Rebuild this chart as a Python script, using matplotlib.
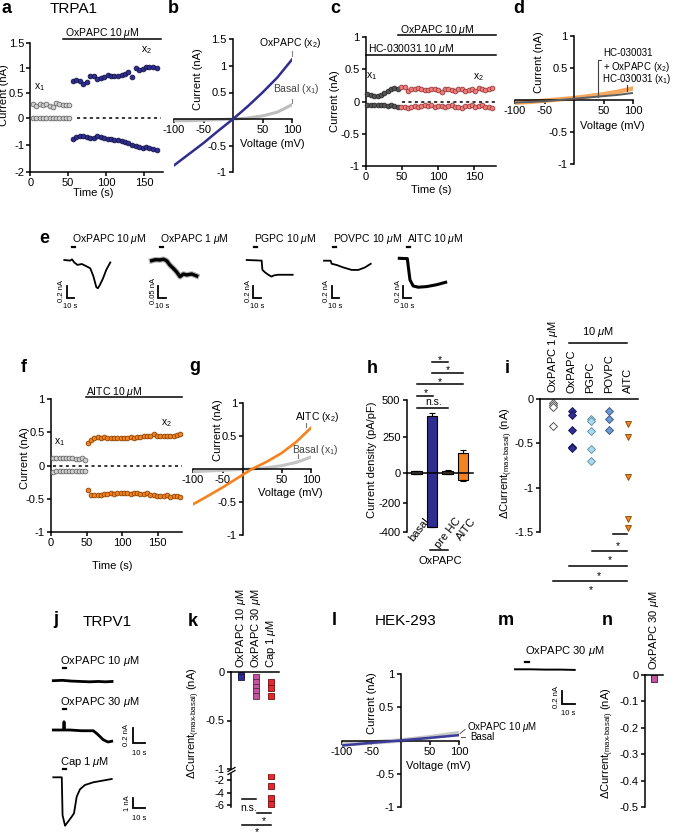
import numpy as np
import matplotlib
matplotlib.use('Agg')
import matplotlib.pyplot as plt
from matplotlib.lines import Line2D

plt.rcParams['font.family'] = ['Liberation Sans', 'DejaVu Sans']
plt.rcParams['mathtext.fontset'] = 'custom'
plt.rcParams['mathtext.rm'] = 'Liberation Sans'
plt.rcParams['mathtext.it'] = 'Liberation Sans:italic'
plt.rcParams['mathtext.bf'] = 'Liberation Sans:bold'
plt.rcParams['font.size'] = 8
plt.rcParams['axes.linewidth'] = 1.1
plt.rcParams['axes.facecolor'] = 'none'
for k_ in ('xtick', 'ytick'):
    plt.rcParams[k_ + '.major.width'] = 1.1
    plt.rcParams[k_ + '.major.size'] = 3
    plt.rcParams[k_ + '.major.pad'] = 1.5
    plt.rcParams[k_ + '.labelsize'] = 8

# ---------------- data ----------------
# a  TRPA1, OxPAPC 10 uM time course (s, nA)
a_t_basal = [4, 8, 12.5, 17, 21, 25.5, 30, 34, 38.5, 43, 47, 51.5]
a_out_basal = [0.27, 0.24, 0.28, 0.25, 0.27, 0.24, 0.21, 0.30, 0.28, 0.26, 0.26, 0.26]
a_in_basal = [0.0, -0.01, 0.0, 0.0, -0.01, 0.0, 0.0, 0.0, -0.01, 0.0, 0.0, -0.01]
a_t_ox = [56, 60.5, 65, 70, 74.5, 79, 83.5, 88, 93, 97.5, 102, 106.5, 111, 116, 120.5,
          125, 129.5, 134, 139, 143.5, 148, 152.5, 157, 162, 166.5]
a_out_ox = [0.75, 0.76, 0.75, 0.69, 0.72, 0.84, 0.84, 0.78, 0.81, 0.83, 0.87, 0.84, 0.85,
            0.85, 0.86, 0.88, 0.92, 0.83, 1.00, 0.96, 0.98, 1.03, 1.03, 1.03, 1.00]
a_in_ox = [-0.80, -0.73, -0.68, -0.67, -0.70, -0.75, -0.76, -0.68, -0.72, -0.74, -0.78, -0.80,
           -0.82, -0.83, -0.86, -0.88, -0.95, -1.02, -1.06, -1.08, -1.10, -1.07, -1.12, -1.15, -1.18]

# b  I-V (mV, nA)
iv_v = [-100, -75, -50, -25, 0, 25, 50, 75, 100]
b_oxpapc = [-0.87, -0.66, -0.45, -0.22, 0.0, 0.24, 0.50, 0.78, 1.12]
b_basal = [-0.03, -0.03, -0.02, -0.01, 0.0, 0.02, 0.06, 0.13, 0.27]

# c  HC-030031 + OxPAPC time course
c_t_hc = [2, 6.7, 11.4, 16, 20.7, 25.4, 30.1, 34.8, 39.4, 44.1]
c_out_hc = [0.11, 0.10, 0.09, 0.08, 0.10, 0.13, 0.16, 0.19, 0.21, 0.20]
c_in_hc = [-0.05, -0.06, -0.05, -0.06, -0.05, -0.06, -0.07, -0.06, -0.07, -0.08]
c_t_ox = [48.8, 53.5, 58.2, 62.8, 67.5, 72.2, 76.9, 81.6, 86.2, 90.9, 95.6, 100.3, 105, 109.6,
          114.3, 119, 123.7, 128.4, 133, 137.7, 142.4, 147.1, 151.8, 156.4, 161.1, 165.8, 170.5, 175.2]
c_out_ox = [0.22, 0.23, 0.16, 0.19, 0.20, 0.21, 0.19, 0.18, 0.18, 0.19, 0.20, 0.18, 0.15, 0.19,
            0.20, 0.18, 0.17, 0.20, 0.19, 0.16, 0.18, 0.19, 0.17, 0.21, 0.20, 0.18, 0.19, 0.21]
c_in_ox = [-0.08, -0.09, -0.10, -0.09, -0.07, -0.08, -0.07, -0.06, -0.07, -0.06, -0.08, -0.07,
           -0.07, -0.08, -0.07, -0.06, -0.08, -0.09, -0.10, -0.07, -0.07, -0.06, -0.08, -0.07,
           -0.06, -0.08, -0.09, -0.10]

# d  I-V with HC-030031
d_hc = [-0.04, -0.03, -0.02, 0.0, 0.02, 0.04, 0.06, 0.08, 0.11]
d_hc_ox = [-0.04, -0.03, -0.01, 0.01, 0.03, 0.06, 0.09, 0.13, 0.18]

# e  example traces (s, nA)
e_labels = ['OxPAPC 10 $\\mu$M', 'OxPAPC 1 $\\mu$M', 'PGPC 10 $\\mu$M', 'POVPC 10 $\\mu$M', 'AITC 10 $\\mu$M']
e_bar_nA = [0.2, 0.05, 0.2, 0.2, 0.2]
e_t1 = [0, 8, 10.5, 13.7, 18, 24, 30, 35.6, 40, 43.8, 46, 49, 53, 57.5, 63]
e_i1 = [0, -0.01, 0.01, -0.04, -0.08, -0.065, -0.10, -0.135, -0.27, -0.44, -0.46, -0.40, -0.30, -0.16, -0.04]
e_t2 = [0, 5, 11.4, 16, 20.5, 25, 29.6, 34, 38.8, 43.4, 48, 54.8, 61.6]
e_i2 = [0, 0.004, 0.003, 0.006, 0, -0.018, -0.031, -0.045, -0.065, -0.054, -0.058, -0.054, -0.062]
e_t3 = [0, 20.5, 21.5, 25, 29.6, 34, 37.4, 43, 63]
e_i3 = [0, -0.01, -0.16, -0.20, -0.24, -0.27, -0.25, -0.24, -0.24]
e_t4 = [0, 9, 10.5, 17.4, 26.5, 38, 47, 56, 64]
e_i4 = [0, 0, -0.05, -0.07, -0.11, -0.15, -0.15, -0.11, -0.05]
e_t5 = [0, 11, 12.3, 14.6, 19, 26, 37.5, 51, 63.5]
e_i5 = [0, -0.005, -0.135, -0.35, -0.45, -0.47, -0.46, -0.43, -0.39]

# f  AITC time course
f_t_basal = [3, 7.5, 12, 16.5, 21, 25.5, 30, 34.5, 39, 43.5, 48]
f_out_basal = [0.11, 0.12, 0.11, 0.11, 0.12, 0.11, 0.12, 0.10, 0.10, 0.11, 0.09]
f_in_basal = [-0.10, -0.09, -0.08, -0.08, -0.08, -0.09, -0.08, -0.08, -0.08, -0.08, -0.09]
f_t_aitc = [51.6, 56.3, 60.9, 65.6, 70.2, 74.9, 79.5, 84.2, 88.8, 93.5, 98.1, 102.8, 107.4, 112.1,
            116.7, 121.4, 126, 130.7, 135.3, 140, 144.6, 149.3, 153.9, 158.6, 163.2, 167.9, 172.5, 177.2, 181.8]
f_out_aitc = [0.34, 0.39, 0.41, 0.43, 0.42, 0.43, 0.42, 0.42, 0.41, 0.42, 0.42, 0.42, 0.42, 0.43,
              0.42, 0.43, 0.43, 0.44, 0.44, 0.44, 0.47, 0.45, 0.44, 0.44, 0.45, 0.44, 0.45, 0.46, 0.47]
f_in_aitc = [-0.37, -0.44, -0.45, -0.44, -0.44, -0.43, -0.43, -0.42, -0.43, -0.42, -0.42, -0.41,
             -0.42, -0.43, -0.42, -0.42, -0.43, -0.43, -0.42, -0.44, -0.45, -0.46, -0.46, -0.46,
             -0.45, -0.47, -0.46, -0.46, -0.47]

# g  I-V AITC
g_aitc = [-0.535, -0.41, -0.28, -0.14, 0.0, 0.11, 0.24, 0.41, 0.625]
g_basal = [-0.04, -0.03, -0.02, -0.01, 0.0, 0.02, 0.05, 0.10, 0.18]

# h  current density (pA/pF)
h_cats = ['basal', 'OxPAPC', 'pre HC', 'AITC']
h_low = [-6, -363, -6, -45]
h_high = [14, 390, 18, 138]
h_err_low = [-6, -363, -6, -55]
h_err_high = [14, 412, 26, 160]

# i  delta current TRPA1 (nA)
i_cats = ['OxPAPC 1 $\\mu$M', 'OxPAPC', 'PGPC', 'POVPC', 'AITC']
i_ox1 = [-0.05, -0.07, -0.09, -0.30]
i_ox10 = [-0.14, -0.18, -0.35, -0.54, -0.55]
i_pgpc = [-0.22, -0.25, -0.36, -0.56, -0.70]
i_povpc = [-0.14, -0.22, -0.35]
i_aitc = [-0.28, -0.43, -0.88, -1.35, -1.45]

# j  TRPV1 traces
j_labels = ['OxPAPC 10 $\\mu$M', 'OxPAPC 30 $\\mu$M', 'Cap 1 $\\mu$M']
j_t1 = [0, 8, 16, 24, 32, 40, 46, 52]
j_i1 = [0, 0.005, -0.005, -0.01, -0.015, -0.01, -0.015, -0.01]
j_t2 = [0, 9, 9.5, 10, 14.8, 25, 35.4, 38.7, 41.5, 44.2, 48.4, 51.7]
j_i2 = [0, 0, 0.11, 0, 0, -0.01, -0.01, -0.05, -0.09, -0.13, -0.16, -0.15]
j_t3 = [0, 7.5, 8.2, 10.4, 16.3, 18.3, 20.7, 23.6, 28, 35.4, 51.7]
j_i3 = [0, 0, -3.8, -4.84, -3.94, -3.6, -1.94, -1.2, -0.77, -0.5, -0.17]

# k  delta current TRPV1
k_cats = ['OxPAPC 10 $\\mu$M', 'OxPAPC 30 $\\mu$M', 'Cap 1 $\\mu$M']
k_ox10 = [-0.03, -0.05]
k_ox30 = [-0.05, -0.10, -0.15, -0.20, -0.25]
k_cap = [-0.10, -0.17, -0.25, -1.3, -2.9, -4.9, -5.8]

# l  HEK-293 I-V
l_v = [-100, -50, 0, 50, 100]
l_ox = [-0.075, -0.035, 0.0, 0.04, 0.08]
l_basal = [-0.06, -0.03, 0.0, 0.05, 0.11]

# m  HEK trace
m_t = [0, 12, 24, 36, 47]
m_i = [0, 0, -0.005, -0.005, -0.01]

# n
n_val = [-0.025]

NAVY = '#2f2d8f'
NAVY_E = '#15144a'
GRAY_F = '#cfcfcf'
GRAY_E = '#6a6a6a'
ORANGE = '#f5821f'
ORANGE_E = '#8a4400'
PINK = '#f07c7c'
PINK_E = '#9a3b3b'
DARK = '#545454'

# ---------------- layout helpers (pixel boxes) ----------------
W, H = 675, 836
fig = plt.figure(figsize=(W / 100, H / 100), dpi=100)


def px_ax(x0, y0, x1, y1):
    return fig.add_axes([x0 / W, 1 - y1 / H, (x1 - x0) / W, (y1 - y0) / H])


def ftext(x, y, s, **kw):
    kw.setdefault('ha', 'center')
    kw.setdefault('va', 'center')
    return fig.text(x / W, 1 - y / H, s, **kw)


def fline(xs, ys, **kw):
    kw.setdefault('color', 'k')
    kw.setdefault('lw', 1.1)
    fig.add_artist(Line2D([x / W for x in xs], [1 - y / H for y in ys],
                          transform=fig.transFigure, **kw))


def lb(ax):
    ax.spines['top'].set_visible(False)
    ax.spines['right'].set_visible(False)


def tl(vals):
    return ['%g' % v for v in vals]


def iv_axes(box, ylim, yticks, ycross=0):
    ax = px_ax(*box)
    ax.set_xlim(-100, 100)
    ax.set_ylim(*ylim)
    lb(ax)
    ax.spines['left'].set_position(('data', ycross))
    ax.spines['bottom'].set_position(('data', 0))
    ax.set_xticks([-100, -50, 50, 100])
    ax.set_xticklabels(tl([-100, -50, 50, 100]))
    ax.set_yticks(yticks)
    ax.set_yticklabels(tl(yticks))
    return ax


def dots(ax, t, y, fc, ec):
    ax.plot(t, y, 'o', ms=3.4, mfc=fc, mec=ec, mew=0.6, clip_on=False, zorder=3)


def trace_ax(x0, base, pps, ppn):
    ax = px_ax(x0 - 20, base - 60, x0 + 100, base + 60)
    ax.set_xlim(-20 / pps, 100 / pps)
    ax.set_ylim(-60 / ppn, 60 / ppn)
    ax.axis('off')
    return ax


def scalebar(ax, t0, i0, dt, di, lw=1.3):
    ax.plot([t0, t0, t0 + dt], [i0 + di, i0, i0], color='k', lw=lw, clip_on=False,
            solid_joinstyle='miter')


# ---------------- a ----------------
def seg_fwd(v):
    v = np.asarray(v, dtype=float)
    return np.where(v >= 0, v, v * 0.55)


def seg_inv(v):
    v = np.asarray(v, dtype=float)
    return np.where(v >= 0, v, v / 0.55)


axA = px_ax(30.3, 43.5, 163, 172)
axA.set_yscale('function', functions=(seg_fwd, seg_inv))
axA.set_xlim(0, 175)
axA.set_ylim(-2, 1.5)
lb(axA)
axA.set_yticks([-2, -1, 0, 0.5, 1, 1.5])
axA.set_yticklabels(tl([-2, -1, 0, 0.5, 1, 1.5]))
axA.set_xticks([0, 50, 100, 150])
axA.set_xticklabels(tl([0, 50, 100, 150]))
axA.plot([62, 172], [0, 0], color='k', lw=1.1, ls=(0, (2, 2.2)))
dots(axA, a_t_basal, a_out_basal, GRAY_F, GRAY_E)
dots(axA, a_t_basal, a_in_basal, GRAY_F, GRAY_E)
dots(axA, a_t_ox, a_out_ox, NAVY, NAVY_E)
dots(axA, a_t_ox, a_in_ox, NAVY, NAVY_E)
axA.plot([43, 172], [1.585, 1.585], color='k', lw=1.1, clip_on=False)
ftext(65, 36.5, 'OxPAPC 10 $\\mu$M', ha='left', va='baseline', fontsize=7.5)
ftext(40, 87, '$\\mathregular{x_1}$', fontsize=7.5)
ftext(146, 50, '$\\mathregular{x_2}$', fontsize=7.5)
ftext(4.5, 95, 'Current (nA)', rotation=90)
ftext(93, 193, 'Time (s)')

# ---------------- b ----------------
axB = iv_axes((174, 39.3, 292, 172.3), (-1, 1.5), [-1, -0.5, 0.5, 1, 1.5])
axB.plot(iv_v, b_basal, color='#bdbdbd', lw=2.2, zorder=2)
axB.plot(iv_v, b_oxpapc, color=NAVY, lw=1.8, zorder=3)
axB.plot([100, 100], [1.28, 1.18], color='#888888', lw=0.8, clip_on=False)
axB.plot([100, 100], [0.38, 0.31], color='#888888', lw=0.8, clip_on=False)
ftext(290, 43, 'OxPAPC (x$_2$)', fontsize=7.5)
ftext(296, 89, 'Basal (x$_1$)', fontsize=7.5, color='#444444')
ftext(198, 79, 'Current (nA)', rotation=90)
ftext(272, 144, 'Voltage (mV)')

# ---------------- c ----------------
axC = px_ax(366, 37.3, 495.6, 165.7)
axC.set_xlim(0, 180)
axC.set_ylim(-1, 1)
lb(axC)
axC.set_yticks([-1, -0.5, 0, 0.5, 1])
axC.set_yticklabels(tl([-1, -0.5, 0, 0.5, 1]))
axC.set_xticks([0, 50, 100, 150])
axC.set_xticklabels(tl([0, 50, 100, 150]))
axC.plot([50, 179], [0, 0], color='k', lw=1.1, ls=(0, (2, 2.2)))
dots(axC, c_t_hc, c_out_hc, DARK, '#2a2a2a')
dots(axC, c_t_hc, c_in_hc, DARK, '#2a2a2a')
dots(axC, c_t_ox, c_out_ox, PINK, PINK_E)
dots(axC, c_t_ox, c_in_ox, PINK, PINK_E)
axC.plot([44, 180], [1.03, 1.03], color='k', lw=1.1, clip_on=False)
axC.plot([0, 180], [0.72, 0.72], color='k', lw=1.1, clip_on=False)
ftext(400, 33, 'OxPAPC 10 $\\mu$M', ha='left', va='baseline', fontsize=7.5)
ftext(368, 52, 'HC-030031 10 $\\mu$M', ha='left', va='baseline', fontsize=7.5)
ftext(372, 76, '$\\mathregular{x_1}$', fontsize=7.5)
ftext(478, 77, '$\\mathregular{x_2}$', fontsize=7.5)
ftext(335, 101, 'Current (nA)', rotation=90)
ftext(431, 190, 'Time (s)')

# ---------------- d ----------------
axD = iv_axes((515, 35.7, 633, 164.3), (-1, 1), [-1, -0.5, 0.5, 1])
axD.plot(iv_v, d_hc_ox, color='#f6a85f', lw=3.2, zorder=2)
axD.plot(iv_v, d_hc, color='#5f5f5f', lw=1.4, zorder=3)
axD.plot([45, 41, 41], [0.62, 0.62, 0.04], color='#444444', lw=0.8, clip_on=False)
axD.plot([89, 89], [0.23, 0.14], color='#444444', lw=0.8, clip_on=False)
ftext(603, 53, 'HC-030031', ha='left', fontsize=7)
ftext(603, 66.5, '+ OxPAPC (x$_2$)', ha='left', fontsize=7)
ftext(602, 79, 'HC-030031 (x$_1$)', ha='left', fontsize=7)
ftext(539, 62, 'Current (nA)', rotation=90)
ftext(612, 126, 'Voltage (mV)')

# ---------------- e ----------------
e_traces = [(e_t1, e_i1), (e_t2, e_i2), (e_t3, e_i3), (e_t4, e_i4), (e_t5, e_i5)]
e_x0 = [64.3, 151.7, 246.7, 324, 399.3]
e_base = [260, 260.7, 260, 260.7, 258.3]
e_lab_x = [72, 160, 254, 333, 407]
e_bar_x = [66.7, 158.3, 253.3, 331.7, 403.3]
e_lw = [1.3, 1.3, 1.3, 1.3, 2.2]
for n_, (tt, ii) in enumerate(e_traces):
    ppn = 12.3 / e_bar_nA[n_]
    ax = trace_ax(e_x0[n_], e_base[n_], 0.73, ppn)
    if n_ == 1:
        ax.plot(tt, ii, color='#b0b0b0', lw=4.0, clip_on=False, solid_joinstyle='round')
        ax.plot(tt, ii, color='k', lw=2.4, clip_on=False, solid_joinstyle='round')
    else:
        ax.plot(tt, ii, color='k', lw=e_lw[n_], clip_on=False)
    t_app = (e_lab_x[n_] - e_x0[n_]) / 0.73
    i_app = (e_base[n_] - 246.7) / ppn
    ax.plot([t_app, t_app + 3.5], [i_app, i_app], color='k', lw=1.6, clip_on=False)
    tb = (e_bar_x[n_] - e_x0[n_]) / 0.73
    ib = -(298.3 - e_base[n_]) / ppn
    scalebar(ax, tb, ib, 10, e_bar_nA[n_])
    ftext(e_lab_x[n_], 241.5, e_labels[n_], ha='left', va='baseline', fontsize=7.5,
          family=['Liberation Sans Narrow', 'Liberation Sans', 'DejaVu Sans'])
    ftext(e_bar_x[n_] - 5, 291, ('%g nA' % e_bar_nA[n_]), rotation=90, fontsize=5.5)
    ftext(e_bar_x[n_] + 3.5, 306.5, '10 s', fontsize=5.5)

# ---------------- f ----------------
axF = px_ax(51, 399, 182.4, 532)
axF.set_xlim(0, 185)
axF.set_ylim(-1, 1)
lb(axF)
axF.set_yticks([-1, -0.5, 0, 0.5, 1])
axF.set_yticklabels(tl([-1, -0.5, 0, 0.5, 1]))
axF.set_xticks([0, 50, 100, 150])
axF.set_xticklabels(tl([0, 50, 100, 150]))
axF.plot([3, 184], [0, 0], color='k', lw=1.1, ls=(0, (2, 2.2)))
dots(axF, f_t_basal, f_out_basal, GRAY_F, GRAY_E)
dots(axF, f_t_basal, f_in_basal, GRAY_F, GRAY_E)
dots(axF, f_t_aitc, f_out_aitc, ORANGE, ORANGE_E)
dots(axF, f_t_aitc, f_in_aitc, ORANGE, ORANGE_E)
axF.plot([49, 184], [1.03, 1.03], color='k', lw=1.1, clip_on=False)
ftext(86, 395, 'AITC 10 $\\mu$M', ha='left', va='baseline', fontsize=7.5)
ftext(59.5, 442.5, '$\\mathregular{x_1}$', fontsize=7.5)
ftext(166, 423, '$\\mathregular{x_2}$', fontsize=7.5)
ftext(25, 458, 'Current (nA)', rotation=90)
ftext(112, 566, 'Time (s)')

# ---------------- g ----------------
axG = iv_axes((193, 403, 311, 535), (-1, 1), [-1, -0.5, 0.5, 1], ycross=-15)
axG.plot(iv_v, g_basal, color='#c4c4c4', lw=2.2, zorder=2)
axG.plot(iv_v, g_aitc, color=ORANGE, lw=1.9, zorder=3)
axG.plot([91, 91], [0.70, 0.63], color='#777777', lw=0.8, clip_on=False)
axG.plot([78, 78], [0.23, 0.16], color='#777777', lw=0.8, clip_on=False)
ftext(317, 417, 'AITC (x$_2$)', fontsize=7.5)
ftext(315, 450, 'Basal (x$_1$)', fontsize=7.5, color='#444444')
ftext(218, 430, 'Current (nA)', rotation=90)
ftext(290, 493, 'Voltage (mV)')

# ---------------- h ----------------
axH = px_ax(406.7, 400, 473.3, 532)
axH.set_xlim(-0.63, 3.66)
axH.set_ylim(-400, 500)
lb(axH)
axH.spines['bottom'].set_position(('data', 0))
axH.set_xticks([])
axH.set_yticks([-400, -200, 0, 250, 500])
axH.set_yticklabels(tl([-400, -200, 0, 250, 500]))
h_x = np.arange(len(h_cats))
h_colors = ['#d8d8d8', NAVY, '#f4c9a4', ORANGE]
axH.bar(h_x, np.subtract(h_high, h_low), bottom=h_low, width=0.65, color=h_colors,
        edgecolor='k', lw=0.8, zorder=1)
axH.errorbar(h_x, h_high, yerr=[np.zeros(4), np.subtract(h_err_high, h_high)], fmt='none',
             ecolor='k', elinewidth=0.8, capsize=2.2, capthick=0.8)
axH.errorbar(h_x, h_low, yerr=[np.subtract(h_low, h_err_low), np.zeros(4)], fmt='none',
             ecolor='k', elinewidth=0.8, capsize=2.2, capthick=0.8)
for (x1, x2, y) in [(0.99, 2.05, 758), (0.99, 3.0, 687), (0.05, 3.0, 610),
                    (0.05, 1.08, 530), (0.05, 2.05, 448)]:
    axH.plot([x1, x2], [y, y], color='k', lw=1.1, clip_on=False)
h_star_pos = [(1.52, 795), (2.05, 722), (1.52, 643), (0.61, 568), (1.08, 486)]
for (x, y), s in zip(h_star_pos, ['*', '*', '*', '*', 'n.s.']):
    axH.text(x, y - (20 if s == '*' else 0), s, ha='center', va='center', fontsize=7.5,
             clip_on=False)
for x, s in zip([0, 2, 3], [h_cats[0], h_cats[2], h_cats[3]]):
    axH.text(x + 0.45, -290, s, rotation=52, rotation_mode='anchor', ha='right', va='top',
             fontsize=8)
axH.plot([0.87, 2.05], [-525, -525], color='k', lw=1.1, clip_on=False)
axH.text(1.52, -600, h_cats[1], ha='center', va='center', fontsize=8)
ftext(372, 460, 'Current density (pA/pF)', rotation=90)

# ---------------- i ----------------
axI = px_ax(540, 399, 638, 532)
axI.set_xlim(-0.69, 4.53)
axI.set_ylim(-1.5, 0)
axI.spines['right'].set_visible(False)
axI.spines['bottom'].set_visible(False)
axI.set_xticks([])
axI.set_yticks([-1.5, -1, -0.5, 0])
axI.set_yticklabels(tl([-1.5, -1, -0.5, 0]))
axI.plot([0] * len(i_ox1), i_ox1, 'D', ms=3.6, mfc='white', mec='#555555', mew=0.7)
axI.plot([1] * len(i_ox10), i_ox10, 'D', ms=3.6, mfc=NAVY, mec=NAVY_E, mew=0.6)
axI.plot([2] * len(i_pgpc), i_pgpc, 'D', ms=3.6, mfc='#a9dbf0', mec='#5a8aa0', mew=0.6)
axI.plot([3] * len(i_povpc), i_povpc, 'D', ms=3.6, mfc='#6c9bd3', mec='#35507a', mew=0.6)
axI.plot([4] * len(i_aitc), i_aitc, 'v', ms=4.4, mfc=ORANGE, mec=ORANGE_E, mew=0.6,
         clip_on=False)
for n_, s in enumerate(i_cats):
    axI.text(n_, 0.07, s, rotation=90, ha='center', va='bottom', fontsize=8, clip_on=False)
axI.plot([0.87, 3.93], [0.63, 0.63], color='k', lw=1.1, clip_on=False)
axI.text(2.4, 0.76, '10 $\\mu$M', ha='center', va='center', fontsize=8)
for x1, y in [(3.22, -1.52), (2.06, -1.71), (0.87, -1.88), (0.0, -2.05)]:
    axI.plot([x1, 3.93], [y, y], color='k', lw=1.1, clip_on=False)
for x, y in [(3.48, -1.63), (3.04, -1.79), (2.42, -1.97), (2.03, -2.13)]:
    axI.text(x, y - 0.03, '*', ha='center', va='center', fontsize=7.5, clip_on=False)
ftext(506.5, 463, '$\\Delta$Current$_{\\text{(max-basal)}}$ (nA)', rotation=90)

# ---------------- j ----------------
j_traces = [(j_t1, j_i1), (j_t2, j_i2), (j_t3, j_i3)]
j_base = [680.7, 730, 777.3]
j_ppn = [75, 75, 10]
j_lab_y = [660.7, 701.7, 761.7]
j_lw = [2.0, 2.0, 1.3]
j_axes = []
for n_, (tt, ii) in enumerate(j_traces):
    ax = trace_ax(53.3, j_base[n_], 1.13, j_ppn[n_])
    j_axes.append(ax)
    ax.plot(tt, ii, color='k', lw=j_lw[n_], clip_on=False)
    i_app = (j_base[n_] - (j_lab_y[n_] + 7.6)) / j_ppn[n_]
    ax.plot([8.8, 11.4], [i_app, i_app], color='k', lw=1.6, clip_on=False)
    ftext(60, j_lab_y[n_] + 3.5, j_labels[n_], ha='left', va='baseline', fontsize=8)
scalebar(j_axes[1], 70.8, -0.177, 10, 0.2)
scalebar(j_axes[2], 70.8, -3.1, 10, 1)
ftext(127, 735.5, '0.2 nA', rotation=90, fontsize=5.5)
ftext(139, 753.5, '10 s', fontsize=5.5)
ftext(127.5, 803.5, '1 nA', rotation=90, fontsize=5.5)
ftext(139, 818.5, '10 s', fontsize=5.5)

# ---------------- k ----------------
axK = px_ax(231, 672, 279, 769)
axK.set_xlim(-0.67, 2.53)
axK.set_ylim(-1, 0)
axK.spines['right'].set_visible(False)
axK.spines['bottom'].set_visible(False)
axK.set_xticks([])
axK.set_yticks([-1, -0.5, 0])
axK.set_yticklabels(tl([-1, -0.5, 0]))
axK2 = px_ax(231, 773.75, 279, 806.9)
axK2.set_xlim(-0.67, 2.53)
axK2.set_ylim(-6.3, -1)
for s in ('right', 'bottom', 'top'):
    axK2.spines[s].set_visible(False)
axK2.set_xticks([])
axK2.set_yticks([-6, -4, -2])
axK2.set_yticklabels(tl([-6, -4, -2]))
for ax in (axK, axK2):
    ax.plot([0] * len(k_ox10), k_ox10, 's', ms=4.6, mfc=NAVY, mec=NAVY_E, mew=0.6)
    ax.plot([1] * len(k_ox30), k_ox30, 's', ms=4.6, mfc='#c2559e', mec='#5e2350', mew=0.6)
    ax.plot([2] * len(k_cap), k_cap, 's', ms=4.6, mfc='#e9262b', mec='#6a0d0f', mew=0.6)
for n_, s in enumerate(k_cats):
    axK.text(n_, 0.04, s, rotation=90, ha='center', va='bottom', fontsize=8, clip_on=False)
fline([228, 235], [771.5, 767.5], lw=0.9)
fline([228, 235], [774.5, 770.5], lw=0.9)
axK2.plot([0.07, 1.0], [-5.1, -5.1], color='k', lw=1.1, clip_on=False)
axK2.plot([1.07, 2.0], [-7.33, -7.33], color='k', lw=1.1, clip_on=False)
axK2.plot([0.07, 2.0], [-9.2, -9.2], color='k', lw=1.1, clip_on=False)
axK2.text(0.49, -6.4, 'n.s.', ha='center', va='center', fontsize=7.5, clip_on=False)
axK2.text(1.49, -8.5, '*', ha='center', va='center', fontsize=7.5, clip_on=False)
axK2.text(1.05, -10.3, '*', ha='center', va='center', fontsize=7.5, clip_on=False)
ftext(194, 723, '$\\Delta$Current$_{\\text{(max-basal)}}$ (nA)', rotation=90)

# ---------------- l ----------------
axL = iv_axes((342, 674, 459, 807), (-1, 1), [-1, -0.5, 0.5, 1])
axL.plot(l_v, l_basal, color='#c8c8c8', lw=3.2, zorder=2)
axL.plot(l_v, l_ox, color='#3c3c9a', lw=1.8, zorder=3)
ftext(467, 726.5, 'OxPAPC 10 $\\mu$M', ha='left', fontsize=7)
ftext(470, 737, 'Basal', ha='left', fontsize=7)
fline([460, 465], [733.5, 729.5], lw=0.7, color='#555555')
fline([461, 465], [737, 737], lw=0.7, color='#555555')
ftext(372, 703, 'Current (nA)', rotation=90)
ftext(438, 766, 'Voltage (mV)')

# ---------------- m ----------------
axM = trace_ax(515, 669.3, 1.27, 61.5)
axM.plot(m_t, m_i, color='k', lw=1.4, clip_on=False)
axM.plot([7.9, 11.3], [0.12, 0.12], color='k', lw=1.6, clip_on=False)
scalebar(axM, 37.4, -0.56, 10, 0.2)
ftext(525, 654, 'OxPAPC 30 $\\mu$M', ha='left', va='baseline', fontsize=8)
ftext(556.5, 697.5, '0.2 nA', rotation=90, fontsize=5.5)
ftext(568.5, 713.5, '10 s', fontsize=5.5)

# ---------------- n ----------------
axN = px_ax(645, 675, 663, 807)
axN.set_xlim(-1, 1)
axN.set_ylim(-0.5, 0)
axN.spines['right'].set_visible(False)
axN.spines['bottom'].set_visible(False)
axN.set_xticks([])
n_ticks = [-0.5, -0.4, -0.3, -0.2, -0.1, 0]
axN.set_yticks(n_ticks)
axN.set_yticklabels(tl(n_ticks))
axN.bar([0], n_val, width=0.6, color='#c2559e', edgecolor='#5e2350', lw=0.7)
axN.text(0, 0.02, 'OxPAPC 30 $\\mu$M', rotation=90, ha='center', va='bottom', fontsize=8,
         clip_on=False)
ftext(608, 743, '$\\Delta$Current$_{\\text{(max-basal)}}$ (nA)', rotation=90)

# ---------------- panel letters ----------------
for s, x, y in [('a', 2, 13), ('b', 168, 13), ('c', 330, 13), ('d', 513, 13), ('e', 39, 243),
                ('f', 21, 372), ('g', 189, 371), ('h', 367, 373), ('i', 505, 373),
                ('j', 53, 624), ('k', 188, 626), ('l', 332, 625), ('m', 498, 625),
                ('n', 602, 625)]:
    ftext(x, y, s, ha='left', va='baseline', fontsize=13, fontweight='bold')
for s, x, y in [('TRPA1', 50, 13), ('TRPV1', 83, 626), ('HEK-293', 375, 625)]:
    ftext(x, y, s, ha='left', va='baseline', fontsize=11)

fig.savefig('out.png', dpi=100, facecolor='white')
